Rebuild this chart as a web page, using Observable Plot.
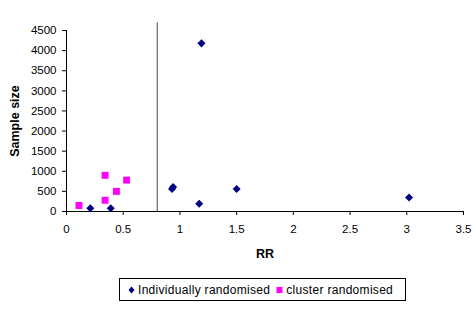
<!DOCTYPE html>
<html>
<head>
<meta charset="utf-8">
<script src="https://cdn.jsdelivr.net/npm/d3@7"></script>
<script src="https://cdn.jsdelivr.net/npm/@observablehq/plot@0.6"></script>
<style>
  html, body { margin: 0; padding: 0; background: #fff; }
  body { width: 473px; height: 322px; overflow: hidden; font-family: "Liberation Sans", Arial, sans-serif; }
  #legend {
    box-sizing: border-box;
    margin-left: 119px; margin-top: 16px;
    width: 287px; height: 23px;
    border: 1px solid #000;
    display: flex; align-items: center;
    font-size: 12px; letter-spacing: 0.3px; color: #000;
    padding-left: 8px;
  }
  #legend .item { display: flex; align-items: center; margin-right: 6px; white-space: nowrap; }
  #legend svg { margin-right: 3px; }
</style>
</head>
<body>
<div id="chart"></div>
<div id="legend"></div>
<script>
// Series: individually randomised trials
const indivRR   = [0.21, 0.39, 0.93, 0.94, 1.17, 1.19, 1.50, 3.02];
const indivSize = [80,   80,   560,  610,  190,  4180, 560,  350];
// Series: cluster randomised trials
const clusterRR   = [0.11, 0.34, 0.34, 0.44, 0.53];
const clusterSize = [150,  900,  280,  500,  780];
// Reference line
const refRR = [0.8];
// Ticks
const xTicks = [0, 0.5, 1, 1.5, 2, 2.5, 3, 3.5];
const yTicks = [0, 500, 1000, 1500, 2000, 2500, 3000, 3500, 4000, 4500];
const seriesNames = ["Individually randomised", "cluster randomised"];
const seriesColors = ["#000080", "#FF00FF"];

const indiv = indivRR.map((rr, i) => ({rr, n: indivSize[i]}));
const cluster = clusterRR.map((rr, i) => ({rr, n: clusterSize[i]}));

// Excel-style square diamond marker
const squareDiamond = {
  draw(ctx, size) {
    const r = Math.sqrt(size / 2);
    ctx.moveTo(0, -r); ctx.lineTo(r, 0); ctx.lineTo(0, r); ctx.lineTo(-r, 0); ctx.closePath();
  }
};

const plot = Plot.plot({
  width: 473,
  height: 262,
  marginLeft: 66,
  marginRight: 10,
  marginTop: 30,
  marginBottom: 51,
  style: {fontFamily: "Liberation Sans, Arial, sans-serif", fontSize: "11.5px", color: "#000", background: "#fff"},
  x: {domain: [0, 3.5]},
  y: {domain: [0, 4500]},
  marks: [
    Plot.axisX({ticks: xTicks, tickSize: 4, tickPadding: 9, tickFormat: d => String(d), label: null, stroke: "#000"}),
    Plot.axisY({ticks: yTicks, tickSize: 4, tickPadding: 6, tickFormat: d => String(d), label: null, stroke: "#000"}),
    Plot.ruleX([0], {y1: 0, y2: 4500, stroke: "#000", strokeWidth: 1}),
    Plot.ruleY([0], {stroke: "#000", strokeWidth: 1}),
    Plot.ruleX(refRR, {y1: 0, y2: 4690, stroke: "#444", strokeWidth: 1}),
    Plot.dot(indiv, {x: "rr", y: "n", symbol: squareDiamond, r: 3.2, fill: seriesColors[0], stroke: null}),
    Plot.dot(cluster, {x: "rr", y: "n", symbol: "square", r: 3.9, fill: seriesColors[1], stroke: null}),
    Plot.text(["RR"], {frameAnchor: "bottom", dy: 42, lineAnchor: "middle", fontWeight: "bold", fontSize: 12.5, fill: "#000"}),
    Plot.text(["Sample size"], {frameAnchor: "left", dx: -52, rotate: -90, textAnchor: "middle", lineAnchor: "middle", fontWeight: "bold", fontSize: 12.5, fill: "#000"})
  ]
});
document.getElementById("chart").appendChild(plot);

// Legend
const legend = document.getElementById("legend");
const shapes = [
  '<svg width="7" height="8"><path d="M3.5 0.5 L6.5 4 L3.5 7.5 L0.5 4 Z" fill="#000080"/></svg>',
  '<svg width="7" height="8"><rect x="0.5" y="1" width="6" height="6" fill="#FF00FF"/></svg>'
];
seriesNames.forEach((name, i) => {
  const it = document.createElement("div");
  it.className = "item";
  it.innerHTML = shapes[i] + "<span>" + name + "</span>";
  legend.appendChild(it);
});
</script>
</body>
</html>
